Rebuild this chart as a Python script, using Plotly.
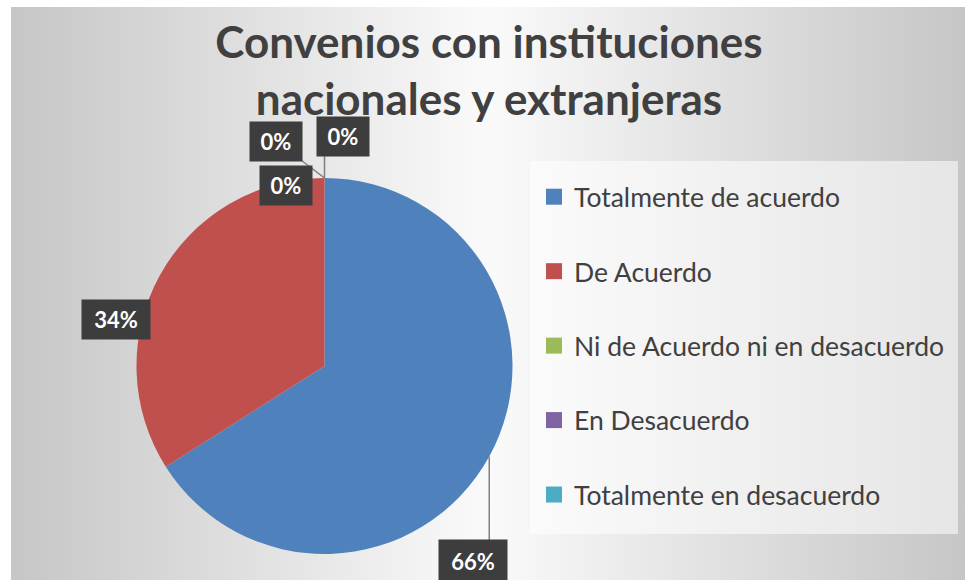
import base64
import math
import plotly.graph_objects as go

# ---------------- data ----------------
categories = [
    "Totalmente de acuerdo",
    "De Acuerdo",
    "Ni de Acuerdo ni en desacuerdo",
    "En Desacuerdo",
    "Totalmente en desacuerdo",
]
values = [66, 34, 0, 0, 0]
colors = ["#4F81BD", "#C0504D", "#9BBB59", "#8064A2", "#4BACC6"]
title_lines = ["Convenios con instituciones", "nacionales y extranjeras"]

# ---------------- layout helpers (pixels -> paper) ----------------
W, H = 965, 580
def px(x):
    return x / W
def py(y):
    return 1 - y / H

# pie geometry (pixels)
PIE_CX, PIE_CY, PIE_R = 324.5, 366.0, 188.0

# label placement style: offset of label centre from slice anchor (px), connector flag
label_offsets = [(-16, 104), (-44, 44), (-48, -36), (19, -42), (-38, 7)]
label_connector = [True, False, True, True, False]

FONT = "Lato, 'Open Sans', sans-serif"
TXT = "#404040"

fig = go.Figure()

fig.add_trace(go.Pie(
    labels=categories,
    values=values,
    sort=False,
    direction="clockwise",
    rotation=0,
    marker=dict(colors=colors, line=dict(width=0)),
    textinfo="none",
    showlegend=False,
    domain=dict(x=[px(PIE_CX - PIE_R), px(PIE_CX + PIE_R)],
                y=[py(PIE_CY + PIE_R), py(PIE_CY - PIE_R)]),
))

# legend entries (square markers)
for cat, col in zip(categories, colors):
    fig.add_trace(go.Scatter(
        x=[None], y=[None], mode="markers",
        marker=dict(symbol="square", size=16, color=col),
        name=cat, legendgroup=cat, showlegend=True, hoverinfo="skip",
    ))

# data labels with leader lines
total = sum(values)
annotations = []
shapes = []
cum = 0.0
for i, v in enumerate(values):
    f = v / total
    theta = 2 * math.pi * (cum + f / 2)
    cum += f
    ax_ = PIE_CX + PIE_R * math.sin(theta)
    ay_ = PIE_CY - PIE_R * math.cos(theta)
    dx, dy = label_offsets[i]
    lx, ly = ax_ + dx, ay_ + dy
    txt = f"{round(100 * f)}%"
    bw = 18 + 16 * len(txt)
    bh = 40 if i == 0 else 37
    annotations.append(dict(
        x=px(lx), y=py(ly), xref="paper", yref="paper",
        text=f"<b>{txt}</b>", showarrow=False,
        font=dict(family=FONT, size=22, color="white"),
        bgcolor="#3d3d3d", width=bw, height=bh,
        xanchor="center", yanchor="middle",
    ))
    if label_connector[i]:
        left, right = lx - bw / 2, lx + bw / 2
        top, bot = ly - bh / 2, ly + bh / 2
        ex = min(max(ax_, left), right)
        ey = min(max(ay_, top), bot)
        shapes.append(dict(
            type="line", xref="paper", yref="paper",
            x0=px(ax_), y0=py(ay_), x1=px(ex), y1=py(ey),
            line=dict(color="#7f7f7f", width=1.5), layer="above",
        ))

# legend background panel
shapes.append(dict(
    type="rect", xref="paper", yref="paper",
    x0=px(530), x1=px(958), y0=py(534), y1=py(161),
    fillcolor="rgba(255,255,255,0.55)", line=dict(width=0), layer="below",
))

# gradient chart-area background
svg = ('<svg xmlns="http://www.w3.org/2000/svg" width="954" height="573" '
       'preserveAspectRatio="none"><defs><linearGradient id="g" x1="0" y1="0" '
       'x2="1" y2="0"><stop offset="0" stop-color="#c6c6c6"/>'
       '<stop offset="0.5" stop-color="#fafafa"/><stop offset="1" stop-color="#c6c6c6"/>'
       '</linearGradient></defs><rect width="100%" height="100%" fill="url(#g)"/></svg>')
src = "data:image/svg+xml;base64," + base64.b64encode(svg.encode()).decode()

fig.update_layout(
    width=W, height=H,
    margin=dict(l=0, r=0, t=0, b=0),
    paper_bgcolor="white",
    plot_bgcolor="rgba(0,0,0,0)",
    xaxis=dict(visible=False, range=[0, 1]),
    yaxis=dict(visible=False, range=[0, 1]),
    images=[dict(
        source=src, xref="paper", yref="paper",
        x=px(11), y=py(7), sizex=px(965) - px(11), sizey=(580 - 7) / H,
        xanchor="left", yanchor="top", sizing="stretch", layer="below",
    )],
    title=dict(
        text="<b>" + "<br>".join(title_lines) + "</b>",
        x=px(489), xanchor="center",
        y=py(58), yanchor="middle", yref="paper",
        font=dict(family=FONT, size=44, color=TXT),
    ),
    legend=dict(
        x=px(534), y=py(173), xanchor="left", yanchor="top",
        bgcolor="rgba(0,0,0,0)",
        font=dict(family=FONT, size=26.5, color=TXT),
        tracegroupgap=37, itemsizing="trace",
    ),
    annotations=annotations,
    shapes=shapes,
    hovermode=False,
)

fig.write_html(
    "out.html",
    config={"displayModeBar": False},
    post_script="document.body.style.margin='0';document.body.style.padding='0';",
)
